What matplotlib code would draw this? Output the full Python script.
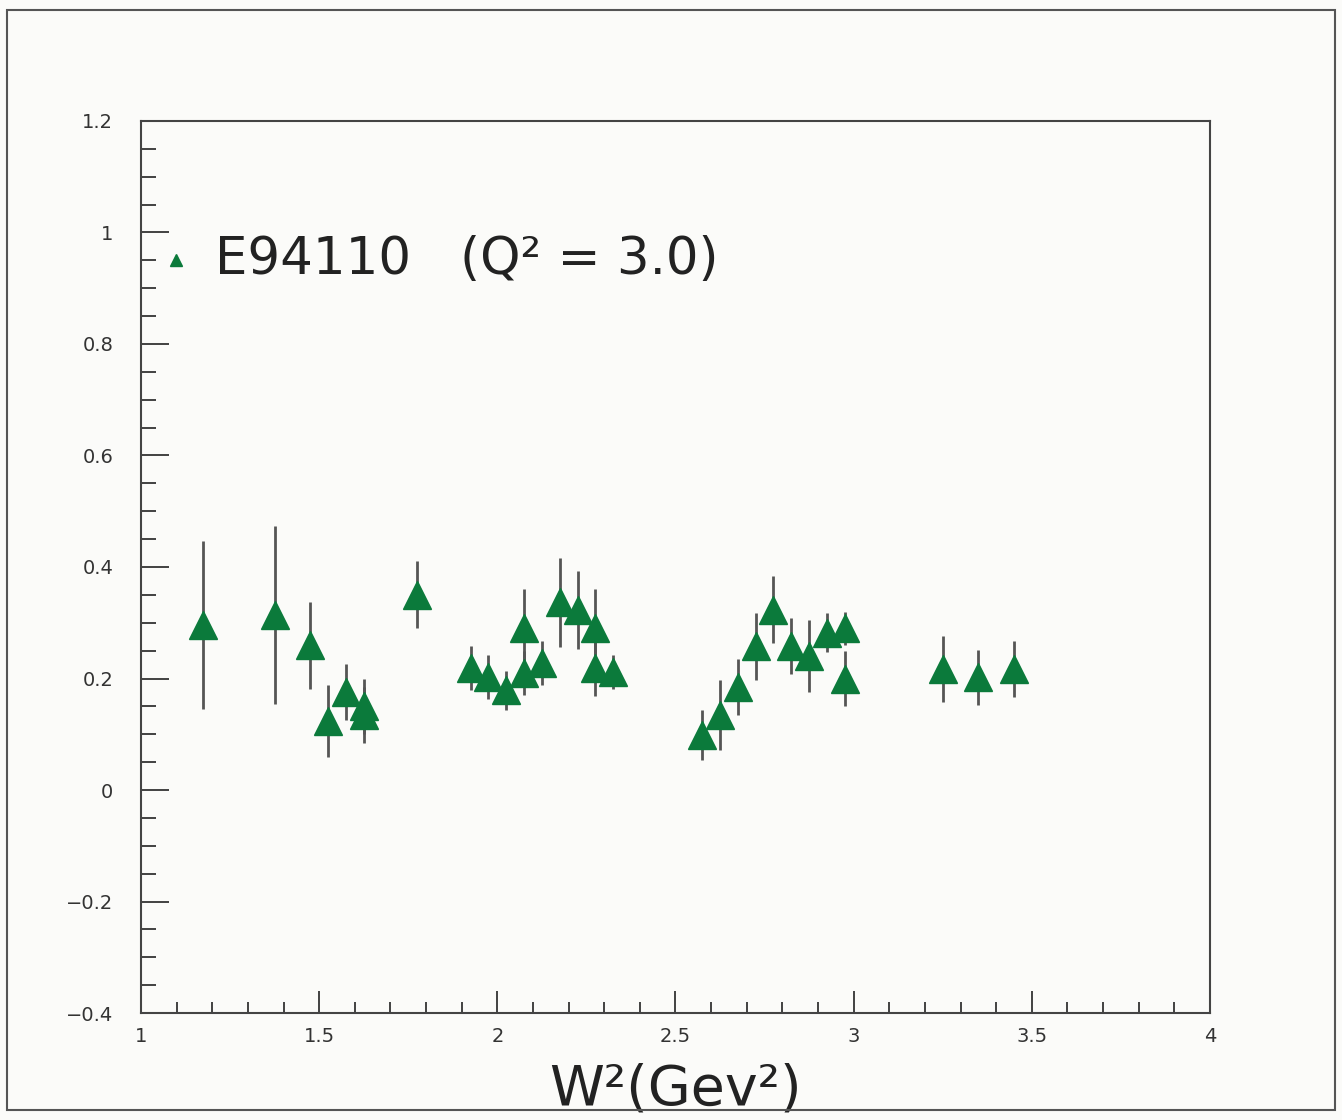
import numpy as np
import matplotlib
matplotlib.use("Agg")
import matplotlib.pyplot as plt
from matplotlib.ticker import MultipleLocator
from matplotlib.patches import Rectangle

# data: W^2, value, symmetric error
w2 = [1.175, 1.375, 1.475, 1.525, 1.575, 1.625, 1.625, 1.775,
      1.925, 1.975, 2.025, 2.075, 2.075, 2.125, 2.175, 2.225, 2.275, 2.275, 2.325,
      2.575, 2.625, 2.675, 2.725, 2.775, 2.825, 2.875, 2.925, 2.975, 2.975,
      3.25, 3.35, 3.45]
val = [0.296, 0.314, 0.26, 0.124, 0.176, 0.15, 0.135, 0.35,
       0.219, 0.203, 0.179, 0.29, 0.21, 0.228, 0.337, 0.323, 0.29, 0.219, 0.212,
       0.099, 0.135, 0.185, 0.258, 0.323, 0.258, 0.24, 0.282, 0.29, 0.2,
       0.217, 0.202, 0.217]
err = [0.15, 0.16, 0.078, 0.065, 0.05, 0.05, 0.05, 0.06,
       0.04, 0.04, 0.035, 0.07, 0.04, 0.04, 0.08, 0.07, 0.07, 0.05, 0.03,
       0.045, 0.063, 0.05, 0.06, 0.06, 0.05, 0.065, 0.035, 0.03, 0.05,
       0.06, 0.05, 0.05]

green = '#0b7a3b'
bg = '#fbfbf9'

fig = plt.figure(figsize=(13.42, 11.2), dpi=100, facecolor=bg)
ax = fig.add_axes([0.1051, 0.0955, 0.7965, 0.7965], facecolor=bg)

# outer frame of the scanned page
fig.patches.append(Rectangle((0.005, 0.009), 0.99, 0.982, transform=fig.transFigure,
                             fill=False, edgecolor='#555555', linewidth=1.5))

ax.errorbar(w2, val, yerr=err, fmt='none', ecolor='#555555', elinewidth=2, capsize=0, zorder=2)
ax.plot(w2, val, linestyle='none', marker='^', markersize=20, color=green,
        markeredgecolor=green, zorder=3)

ax.set_xlim(1, 4)
ax.set_ylim(-0.4, 1.2)
ax.xaxis.set_minor_locator(MultipleLocator(0.1))
ax.yaxis.set_minor_locator(MultipleLocator(0.05))

xt = [1, 1.5, 2, 2.5, 3, 3.5, 4]
ax.set_xticks(xt)
ax.set_xticklabels(['1', '1.5', '2', '2.5', '3', '3.5', '4'])
yt = [-0.4, -0.2, 0, 0.2, 0.4, 0.6, 0.8, 1, 1.2]
ax.set_yticks(yt)
ax.set_yticklabels(['\u22120.4', '\u22120.2', '0', '0.2', '0.4', '0.6', '0.8', '1', '1.2'])

ax.tick_params(which='both', direction='in', top=False, right=False, labelsize=14,
               colors='#333333', width=1.3)
ax.tick_params(axis='y', which='major', length=20, pad=20)
ax.tick_params(axis='y', which='minor', length=11)
ax.tick_params(axis='x', which='major', length=16, pad=10)
ax.tick_params(axis='x', which='minor', length=8)
for s in ax.spines.values():
    s.set_color('#444444')
    s.set_linewidth(1.5)

# legend entry
ax.plot([1.098], [0.95], linestyle='none', marker='^', markersize=9, color=green)
ax.text(1.207, 0.95, 'E94110   (Q\u00b2 = 3.0)', fontsize=37, color='#222222',
        va='center', ha='left')

ax.set_xlabel('W\u00b2(Gev\u00b2)', fontsize=40, color='#222222', labelpad=12)

fig.savefig('out.png', dpi=100, facecolor=bg)
